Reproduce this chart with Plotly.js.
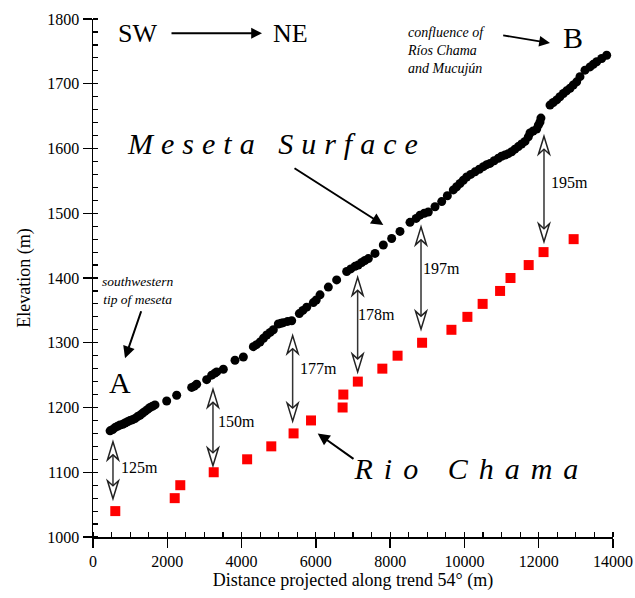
<!DOCTYPE html>
<html>
<head>
<meta charset="utf-8">
<script src="https://cdn.plot.ly/plotly-3.0.1.min.js"></script>
<style>
html,body{margin:0;padding:0;background:#fff;}
#chart{width:635px;height:598px;}
.annotation[data-index="4"] .annotation-text{letter-spacing:8px;}
.annotation[data-index="7"] .annotation-text{letter-spacing:11px;}
</style>
</head>
<body>
<div id="chart"></div>
<script>
// Meseta surface profile (distance m, elevation m)
const mesetaX = [460,530,592,660,727,800,862,930,996,1060,1131,1200,1265,1330,1400,1470,1535,1600,1669,
  1984,2253,2657,2730,2791,3060,3195,3280,3330,3509,3823,4048,4317,4400,4496,4590,4677,4770,4855,4989,5060,
  5124,5240,5349,5555,5650,5753,5932,6010,6112,6336,6560,6830,6940,7054,7140,7234,7320,7413,7592,7816,8041,
  8265,8535,8700,8804,8920,9027,9208,9388,9540,9701,9790,9881,9970,10060,10170,10285,10400,10509,10600,10688,
  10800,10913,11000,11092,11180,11272,11360,11451,11540,11631,11720,11765,11850,11945,11990,12035,12060,
  12304,12390,12484,12570,12663,12750,12843,12930,13022,13111,13246,13381,13470,13561,13695,13830];
const mesetaY = [1164,1166,1169,1171,1173,1174,1176,1178,1180,1181,1183,1186,1188,1191,1194,1197,1200,1202,1204,
  1210,1219,1231,1233,1236,1243,1250,1253,1255,1259,1273,1278,1294,1297,1301,1307,1312,1316,1320,1329,1330,
  1331,1333,1334,1345,1350,1355,1362,1366,1374,1386,1397,1410,1414,1418,1420,1424,1427,1430,1438,1451,1461,
  1472,1486,1492,1497,1500,1502,1510,1518,1527,1536,1541,1546,1551,1556,1560,1564,1568,1572,1575,1577,
  1581,1585,1588,1590,1592,1595,1599,1603,1607,1611,1618,1624,1627,1630,1636,1641,1647,
  1667,1671,1675,1680,1685,1689,1693,1698,1703,1711,1721,1726,1730,1734,1739,1744];

// Rio Chama profile
const chamaX = [600,2200,2350,3250,4150,4800,5400,5870,6720,6740,7130,7790,8200,8860,9650,10080,10490,10960,11240,11730,12130,12940];
const chamaY = [1040,1060,1080,1100,1120,1140,1160,1180,1200,1220,1240,1260,1280,1300,1320,1340,1360,1380,1400,1420,1440,1460];

// incision arrows: distance, upper end, lower end, label
const gapX      = [538, 3230, 5375, 7125, 8831, 12142];
const gapTop    = [1147, 1228, 1311, 1401, 1479, 1619];
const gapBottom = [1059, 1110, 1179, 1255, 1321, 1456];
const gapLabel  = ['125m','150m','177m','178m','197m','195m'];
const gapLabelX = [1265, 3850, 6058, 7646, 9396, 12842];
const gapLabelY = [1108, 1178, 1261, 1343, 1415, 1547];

const xTicks = [0,2000,4000,6000,8000,10000,12000,14000];
const yTicks = [1000,1100,1200,1300,1400,1500,1600,1700,1800];

const SERIF = 'Liberation Serif, Times New Roman, serif';

const traces = [
  {x: mesetaX, y: mesetaY, type:'scatter', mode:'markers',
   marker:{color:'#000', size:9, line:{width:0}}, showlegend:false, hoverinfo:'skip'},
  {x: chamaX, y: chamaY, type:'scatter', mode:'markers',
   marker:{color:'#ff0000', symbol:'square', size:10, line:{width:0}}, showlegend:false, hoverinfo:'skip'}
];

const shapes = [];
const HL = 27.8, HW = 148, NOTCH = 7.7;
gapX.forEach((x,i)=>{
  const t = gapTop[i], b = gapBottom[i];
  shapes.push({type:'line', xref:'x', yref:'y', x0:x, x1:x, y0:b+HL-NOTCH, y1:t-HL+NOTCH,
    line:{color:'#333', width:1.5}, layer:'above'});
  shapes.push({type:'path', xref:'x', yref:'y',
    path:`M ${x},${t} L ${x-HW},${t-HL} L ${x},${t-HL+NOTCH} L ${x+HW},${t-HL} Z`,
    fillcolor:'#fff', line:{color:'#222', width:1.5}, layer:'above'});
  shapes.push({type:'path', xref:'x', yref:'y',
    path:`M ${x},${b} L ${x-HW},${b+HL} L ${x},${b+HL-NOTCH} L ${x+HW},${b+HL} Z`,
    fillcolor:'#fff', line:{color:'#222', width:1.5}, layer:'above'});
});

const annotations = [
  // 0 SW
  {x:1185, y:1778, text:'SW', showarrow:false, font:{family:SERIF, size:26, color:'#000'}},
  // 1 NE
  {x:5304, y:1778, text:'NE', showarrow:false, font:{family:SERIF, size:26, color:'#000'}},
  // 2 B
  {x:12923, y:1771, text:'B', showarrow:false, font:{family:SERIF, size:30, color:'#000'}},
  // 3 confluence
  {x:9500, y:1751, text:'confluence of<br>Ríos Chama<br>and Mucujún', showarrow:false, align:'left',
   font:{family:SERIF, size:14, color:'#000', style:'italic'}},
  // 4 Meseta Surface
  {x:4927, y:1608, text:'Meseta Surface', showarrow:false,
   font:{family:SERIF, size:30, color:'#000', style:'italic'}},
  // 5 southwestern
  {x:1211, y:1381, text:'southwestern<br>tip of meseta', showarrow:false, align:'center',
   font:{family:SERIF, size:13.5, color:'#000', style:'italic'}},
  // 6 A
  {x:727, y:1238, text:'A', showarrow:false, font:{family:SERIF, size:30, color:'#000'}},
  // 7 Rio Chama
  {x:10177, y:1106, text:'Rio Chama', showarrow:false,
   font:{family:SERIF, size:30, color:'#000', style:'italic'}},
  // arrows
  {x:4550, y:1778, ax:2073, ay:1778, axref:'x', ayref:'y', text:'', showarrow:true,
   arrowhead:2, arrowsize:1.2, arrowwidth:1.8, arrowcolor:'#000'},
  {x:12304, y:1763, ax:11003, ay:1775, axref:'x', ayref:'y', text:'', showarrow:true,
   arrowhead:2, arrowsize:1.2, arrowwidth:1.8, arrowcolor:'#000'},
  {x:7816, y:1482, ax:5385, ay:1571, axref:'x', ayref:'y', text:'', showarrow:true,
   arrowhead:2, arrowsize:1.2, arrowwidth:2, arrowcolor:'#000'},
  {x:862, y:1276, ax:1311, ay:1351, axref:'x', ayref:'y', text:'', showarrow:true,
   arrowhead:2, arrowsize:1.2, arrowwidth:2, arrowcolor:'#000'},
  {x:6050, y:1160, ax:7054, ay:1119, axref:'x', ayref:'y', text:'', showarrow:true,
   arrowhead:2, arrowsize:1.2, arrowwidth:2, arrowcolor:'#000'}
];
gapLabel.forEach((t,i)=>{
  annotations.push({x:gapLabelX[i], y:gapLabelY[i], text:t, showarrow:false,
    font:{family:SERIF, size:16, color:'#000'}});
});

const axisCommon = {
  showgrid:false, zeroline:false, showline:true, linecolor:'#000', linewidth:1.5,
  ticks:'outside', ticklen:9, tickwidth:1.3, tickcolor:'#000',
  tickfont:{family:SERIF, size:16, color:'#000'},
};

const layout = {
  width:635, height:598,
  margin:{l:93, r:22, t:19, b:61},
  paper_bgcolor:'#fff', plot_bgcolor:'#fff',
  font:{family:SERIF, color:'#000'},
  xaxis: Object.assign({}, axisCommon, {
    range:[0,14000], tickvals:xTicks, ticktext:xTicks.map(String),
    minor:{dtick:500, tick0:0, ticks:'inside', ticklen:5, tickwidth:1.2, tickcolor:'#000', showgrid:false},
    title:{text:'Distance projected along trend 54° (m)', font:{family:SERIF, size:18, color:'#000'}, standoff:4}
  }),
  yaxis: Object.assign({}, axisCommon, {
    range:[1000,1800], tickvals:yTicks, ticktext:yTicks.map(String),
    minor:{dtick:20, tick0:1000, ticks:'inside', ticklen:5, tickwidth:1.2, tickcolor:'#000', showgrid:false},
    title:{text:'Elevation (m)', font:{family:SERIF, size:18, color:'#000'}, standoff:12}
  }),
  shapes: shapes,
  annotations: annotations
};

Plotly.newPlot('chart', traces, layout, {displayModeBar:false, staticPlot:true});
</script>
</body>
</html>
